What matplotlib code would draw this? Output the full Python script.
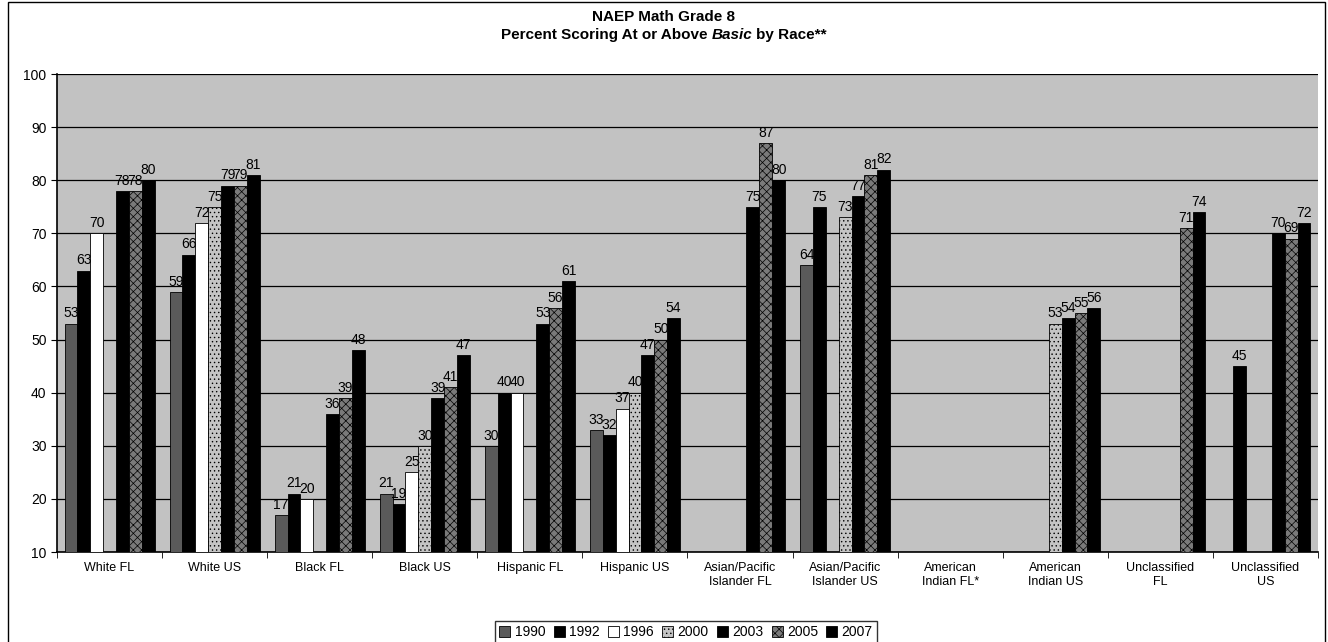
import numpy as np
import matplotlib
matplotlib.use("Agg")
import matplotlib.pyplot as plt
from matplotlib.patches import Rectangle, Patch
from matplotlib.offsetbox import TextArea, HPacker, AnnotationBbox

nan = np.nan
categories = ["White FL", "White US", "Black FL", "Black US", "Hispanic FL",
              "Hispanic US", "Asian/Pacific\nIslander FL", "Asian/Pacific\nIslander US",
              "American\nIndian FL*", "American\nIndian US", "Unclassified\nFL",
              "Unclassified\nUS"]
years = ["1990", "1992", "1996", "2000", "2003", "2005", "2007"]
y1990 = [53, 59, 17, 21, 30, 33, nan, 64, nan, nan, nan, nan]
y1992 = [63, 66, 21, 19, 40, 32, nan, 75, nan, nan, nan, 45]
y1996 = [70, 72, 20, 25, 40, 37, nan, nan, nan, nan, nan, nan]
y2000 = [nan, 75, nan, 30, nan, 40, nan, 73, nan, 53, nan, nan]
y2003 = [78, 79, 36, 39, 53, 47, 75, 77, nan, 54, nan, 70]
y2005 = [78, 79, 39, 41, 56, 50, 87, 81, nan, 55, 71, 69]
y2007 = [80, 81, 48, 47, 61, 54, 80, 82, nan, 56, 74, 72]
series = [y1990, y1992, y1996, y2000, y2003, y2005, y2007]

colors = ["#5a5a5a", "#000000", "#ffffff", "#c4c4c4", "#000000", "#7a7a7a", "#000000"]
hatches = ["", "", "", "....", "", "xxxx", ""]

plt.rcParams['font.family'] = ['Liberation Sans', 'DejaVu Sans']
plt.rcParams['hatch.linewidth'] = 0.5

fig = plt.figure(figsize=(13.28, 6.42), dpi=100)
ax = fig.add_axes([57/1328, 1-552/642, (1318-57)/1328, (552-74)/642])
ax.set_facecolor("#c2c2c2")

x = np.arange(len(categories))
nb = len(series)
w = (90/105) / nb
for i, (vals, c, h) in enumerate(zip(series, colors, hatches)):
    pos = x - 0.5 + (15/105)/2 + w*(i + 0.5)
    v = np.array(vals, dtype=float)
    ax.bar(pos, v, width=w, color=c, edgecolor="black", linewidth=0.6,
           hatch=h, zorder=3, label=years[i])
    for p, val in zip(pos, v):
        if not np.isnan(val):
            ax.text(p, val + 0.6, f"{int(val)}", ha="center", va="bottom",
                    fontsize=10, zorder=4)

ax.set_ylim(10, 100)
ax.set_xlim(-0.5, len(categories) - 0.5)
ax.set_yticks(np.arange(10, 101, 10))
ax.yaxis.grid(True, color="black", linewidth=0.9, zorder=1)
ax.set_axisbelow(True)
ax.set_xticks(x)
ax.set_xticklabels(categories, fontsize=9)
ax.set_xticks(np.arange(-0.5, len(categories), 1), minor=True)
ax.tick_params(axis="x", which="major", length=0, pad=7)
ax.tick_params(axis="x", which="minor", length=4, direction="out")
ax.tick_params(axis="y", length=4, direction="out", labelsize=10)
for s in ["top", "right"]:
    ax.spines[s].set_visible(False)
ax.spines["left"].set_linewidth(1.2)
ax.spines["bottom"].set_linewidth(1.2)

# titles
fig.text(0.5, 1-17/642, "NAEP Math Grade 8", ha="center", va="center",
         fontsize=11, fontweight="bold")
parts = [TextArea("Percent Scoring At or Above", textprops=dict(fontsize=11, fontweight="bold")),
         TextArea("Basic", textprops=dict(fontsize=11, fontweight="bold", style="italic")),
         TextArea("by Race**", textprops=dict(fontsize=11, fontweight="bold"))]
pack = HPacker(children=parts, align="baseline", pad=0, sep=3)
ab = AnnotationBbox(pack, (0.5, 1-35/642), xycoords="figure fraction",
                    box_alignment=(0.5, 0.5), frameon=False)
fig.add_artist(ab)

handles = [Patch(facecolor=c, edgecolor="black", hatch=h, linewidth=0.6)
           for c, h in zip(colors, hatches)]
leg = fig.legend(handles, years, loc="upper center", ncol=7,
                 bbox_to_anchor=(686/1328, 1-621/642), fontsize=10,
                 handlelength=0.8, handleheight=0.8, handletextpad=0.3,
                 columnspacing=0.6, fancybox=False, borderpad=0.3,
                 borderaxespad=0, frameon=True, edgecolor="black")
leg.get_frame().set_linewidth(1.0)

fig.add_artist(Rectangle((8/1328, -0.05), (1325-8)/1328, 1.05 - 2/642,
                         transform=fig.transFigure, fill=False,
                         edgecolor="black", linewidth=1.0))

fig.savefig("out.png", dpi=100)
